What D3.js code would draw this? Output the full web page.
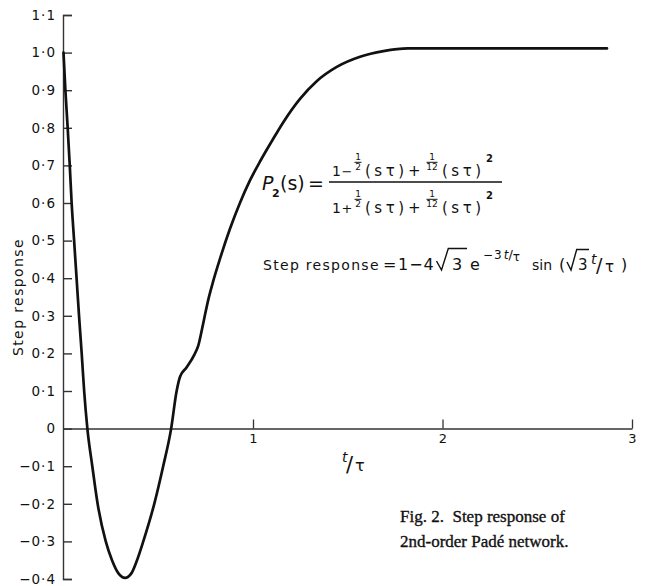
<!DOCTYPE html>
<html>
<head>
<meta charset="utf-8">
<script src="https://cdn.jsdelivr.net/npm/d3@7"></script>
<style>
  html, body { margin: 0; padding: 0; background: #fff; }
  svg { display: block; }
  text { fill: #111; }
</style>
</head>
<body>
<svg id="chart" width="649" height="586"></svg>
<script>
// Step response of the 2nd-order Padé network, sampled along t/τ
const tValues = [0, 0.010, 0.022, 0.033, 0.043, 0.056, 0.069, 0.082, 0.096, 0.109, 0.126,
  0.152, 0.180, 0.223, 0.256, 0.290, 0.325, 0.358, 0.388, 0.421, 0.479, 0.526, 0.568,
  0.597, 0.615, 0.650, 0.690, 0.712, 0.730, 0.748, 0.766, 0.790, 0.826, 0.879, 0.931,
  0.984, 1.040, 1.100, 1.160, 1.248, 1.336, 1.442, 1.565, 1.688, 1.818, 2.868];
const stepValues = [1.0, 0.90, 0.80, 0.70, 0.60, 0.50, 0.40, 0.30, 0.20, 0.10, 0.0,
  -0.10, -0.20, -0.30, -0.35, -0.385, -0.397, -0.385, -0.35, -0.30, -0.20, -0.10, 0.0,
  0.100, 0.138, 0.163, 0.196, 0.222, 0.262, 0.306, 0.347, 0.392, 0.452, 0.532, 0.600,
  0.660, 0.713, 0.765, 0.815, 0.877, 0.924, 0.962, 0.989, 1.004, 1.011, 1.011];

const yTickValues = [1.1, 1.0, 0.9, 0.8, 0.7, 0.6, 0.5, 0.4, 0.3, 0.2, 0.1, 0, -0.1, -0.2, -0.3, -0.4];
const yTickLabels = ["1·1", "1·0", "0·9", "0·8", "0·7", "0·6", "0·5", "0·4", "0·3", "0·2", "0·1", "0",
  "−0·1", "−0·2", "−0·3", "−0·4"];
const xTickValues = [1, 2, 3];
const xTickLabels = ["1", "2", "3"];

const svg = d3.select("#chart");
const SANS = "'DejaVu Sans', sans-serif";
const SERIF = "'Liberation Serif', 'Times New Roman', serif";

const x = d3.scaleLinear().domain([0, 3]).range([63.5, 632]);
const y = d3.scaleLinear().domain([-0.4, 1.1]).range([579, 15]);

// y axis: ticks point into the plot, labels to the left
const yAxis = d3.axisLeft(y)
  .tickValues(yTickValues)
  .tickFormat((d, i) => yTickLabels[i])
  .tickSizeInner(-9)
  .tickSizeOuter(-9)
  .tickPadding(7);
const gy = svg.append("g").attr("transform", `translate(${x(0) - 0.5},0)`).call(yAxis);
gy.selectAll("path, line").attr("stroke", "#333").attr("stroke-width", 1.4);
gy.selectAll("text")
  .attr("font-family", SANS).attr("font-size", 13.5).attr("letter-spacing", "1px")
  .attr("fill", "#111");

// x axis along the zero line, ticks pointing up
const xAxis = d3.axisBottom(x)
  .tickValues(xTickValues)
  .tickFormat((d, i) => xTickLabels[i])
  .tickSizeInner(-9)
  .tickSizeOuter(0)
  .tickPadding(5);
const gx = svg.append("g").attr("transform", `translate(0,${Math.round(y(0)) - 0.5})`).call(xAxis);
gx.selectAll("path, line").attr("stroke", "#333").attr("stroke-width", 1.3);
gx.selectAll("text")
  .attr("font-family", SANS).attr("font-size", 13).attr("fill", "#111");

// response curve
const points = tValues.map((t, i) => [t, stepValues[i]]);
const line = d3.line()
  .x(d => x(d[0]))
  .y(d => y(d[1]))
  .curve(d3.curveMonotoneX);
svg.append("path")
  .datum(points)
  .attr("d", line)
  .attr("fill", "none")
  .attr("stroke", "#111")
  .attr("stroke-width", 2.7)
  .attr("stroke-linejoin", "round")
  .attr("stroke-linecap", "round");

// axis titles
svg.append("text")
  .attr("transform", "translate(23,297) rotate(-90)")
  .attr("text-anchor", "middle")
  .attr("font-family", SANS).attr("font-size", 14).attr("letter-spacing", "1.4px")
  .text("Step response");

const xt = svg.append("g").attr("font-family", SANS);
xt.append("text").attr("x", 342).attr("y", 462).attr("font-size", 14).attr("font-style", "italic").text("t");
xt.append("text").attr("x", 346).attr("y", 472).attr("font-size", 21).text("/");
xt.append("text").attr("x", 355).attr("y", 471).attr("font-size", 16).text("τ");

// transfer function P2(s)
const eq = svg.append("g").attr("font-family", SANS);
eq.append("text").attr("x", 262).attr("y", 190).attr("font-size", 19).attr("font-style", "italic").text("P");
eq.append("text").attr("x", 272).attr("y", 197).attr("font-size", 11).attr("font-weight", "bold").text("2");
eq.append("text").attr("x", 280).attr("y", 190).attr("font-size", 19).text("(s)");
eq.append("text").attr("x", 308).attr("y", 190).attr("font-size", 19).text("=");
eq.append("line").attr("x1", 329).attr("x2", 502).attr("y1", 182).attr("y2", 182)
  .attr("stroke", "#111").attr("stroke-width", 1.5);

function smallFrac(g, cx, base, num, den, w) {
  g.append("text").attr("x", cx).attr("y", base - 16.5).attr("text-anchor", "middle")
    .attr("font-size", 9).text(num);
  g.append("line").attr("x1", cx - w / 2).attr("x2", cx + w / 2)
    .attr("y1", base - 13.7).attr("y2", base - 13.7)
    .attr("stroke", "#111").attr("stroke-width", 1);
  g.append("text").attr("x", cx).attr("y", base - 6.3).attr("text-anchor", "middle")
    .attr("font-size", 9).text(den);
}

function polyRow(base, sign) {
  eq.append("text").attr("x", 332).attr("y", base).attr("font-size", 14).text("1");
  eq.append("text").attr("x", 341.5).attr("y", base).attr("font-size", 13).text(sign);
  smallFrac(eq, 358, base, "1", "2", 7);
  eq.append("text").attr("x", 365).attr("y", base).attr("font-size", 15)
    .attr("letter-spacing", "3.5px").text("(sτ)");
  eq.append("text").attr("x", 408).attr("y", base).attr("font-size", 15).text("+");
  smallFrac(eq, 432, base, "1", "12", 11);
  eq.append("text").attr("x", 442).attr("y", base).attr("font-size", 15)
    .attr("letter-spacing", "3.5px").text("(sτ)");
  eq.append("text").attr("x", 486).attr("y", base - 14).attr("font-size", 10)
    .attr("font-weight", "bold").text("2");
}
polyRow(176, "−");
polyRow(213, "+");

// closed-form step response
const sr = svg.append("g").attr("font-family", SANS);
const base2 = 270;
sr.append("text").attr("x", 263).attr("y", base2).attr("font-size", 14)
  .attr("letter-spacing", "1.3px").text("Step response");
sr.append("text").attr("x", 383).attr("y", base2).attr("font-size", 16).text("=");
sr.append("text").attr("x", 398).attr("y", base2).attr("font-size", 16)
  .attr("letter-spacing", "1px").text("1−4");
sr.append("path").attr("d", "M436.5,261 L441.5,270 L448.3,248.5 L467,248.5")
  .attr("fill", "none").attr("stroke", "#111").attr("stroke-width", 1.4);
sr.append("text").attr("x", 452).attr("y", base2).attr("font-size", 16).text("3");
sr.append("text").attr("x", 470).attr("y", base2).attr("font-size", 16).text("e");
const ex = sr.append("text").attr("x", 483).attr("y", 259).attr("font-size", 12);
ex.append("tspan").attr("letter-spacing", "1px").text("−3");
ex.append("tspan").attr("font-style", "italic").attr("dx", 1).text("t");
ex.append("tspan").attr("font-size", 13).text("/");
ex.append("tspan").attr("dy", 2).text("τ");
sr.append("text").attr("x", 532).attr("y", base2).attr("font-size", 14).text("sin");
sr.append("text").attr("x", 559).attr("y", base2).attr("font-size", 16).text("(");
sr.append("path").attr("d", "M567,262 L571,270 L576.7,249.5 L589,249.5")
  .attr("fill", "none").attr("stroke", "#111").attr("stroke-width", 1.4);
sr.append("text").attr("x", 578).attr("y", base2).attr("font-size", 15).text("3");
sr.append("text").attr("x", 591).attr("y", 264).attr("font-size", 14).attr("font-style", "italic").text("t");
sr.append("text").attr("x", 596).attr("y", 272).attr("font-size", 19).text("/");
sr.append("text").attr("x", 605).attr("y", 272).attr("font-size", 15).text("τ");
sr.append("text").attr("x", 621).attr("y", base2).attr("font-size", 16).text(")");

// figure caption
const cap = svg.append("g").attr("font-family", SERIF).attr("font-size", 17)
  .attr("stroke", "#111").attr("stroke-width", 0.35);
cap.append("text").attr("x", 400).attr("y", 522).text("Fig. 2.\u00a0 Step response of");
cap.append("text").attr("x", 400).attr("y", 547).text("2nd-order Padé network.");
</script>
</body>
</html>
